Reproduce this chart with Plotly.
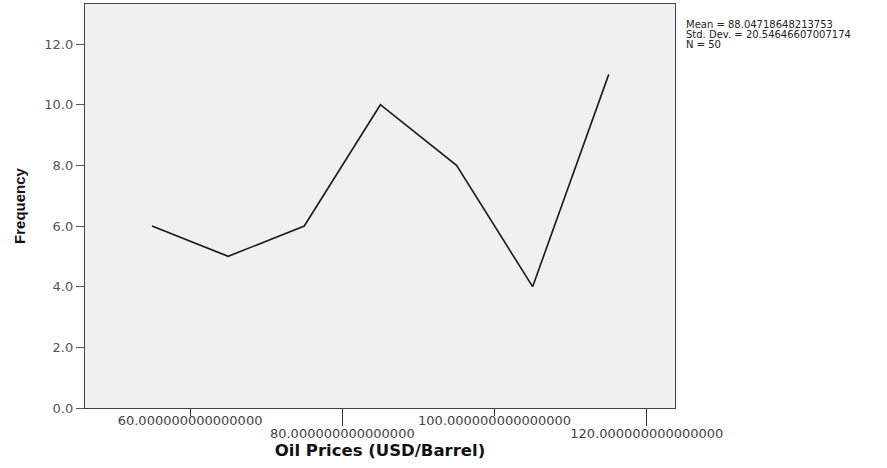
import plotly.graph_objects as go

# Data (bin midpoints and frequencies)
price_mid = [55, 65, 75, 85, 95, 105, 115]
frequency = [6, 5, 6, 10, 8, 4, 11]

upper_ticks = [60, 100]
lower_ticks = [80, 120]
upper_labels = ["60.000000000000000", "100.000000000000000"]
lower_labels = ["80.000000000000000", "120.000000000000000"]
y_ticks = [0, 2, 4, 6, 8, 10, 12]
y_labels = ["0.0", "2.0", "4.0", "6.0", "8.0", "10.0", "12.0"]

stats_lines = ["Mean = 88.04718648213753", "Std. Dev. = 20.54646607007174", "N = 50"]

x_range = [46.2, 123.7]
y_range = [0, 13.32]

fig = go.Figure()
fig.add_trace(go.Scatter(x=price_mid, y=frequency, mode="lines",
                         line=dict(color="#1a1a1a", width=1.6),
                         showlegend=False, hoverinfo="x+y"))
fig.add_trace(go.Scatter(x=[], y=[], xaxis="x2", yaxis="y", showlegend=False))

tick_font = dict(family="DejaVu Sans", size=13, color="#444444")

fig.update_layout(
    width=887, height=468,
    margin=dict(l=85, r=212, t=4, b=60, autoexpand=False),
    paper_bgcolor="white",
    plot_bgcolor="#f0f0f0",
    xaxis=dict(range=x_range, tickvals=upper_ticks, ticktext=upper_labels,
               ticks="outside", ticklen=7, tickwidth=1.3, tickcolor="#333333",
               ticklabelstandoff=-7,
               tickfont=tick_font, showgrid=False, zeroline=False, automargin=False,
               showline=True, linecolor="#444444", linewidth=1.3, mirror=True,
               title=dict(text="<b>Oil Prices (USD/Barrel)</b>",
                          font=dict(family="DejaVu Sans", size=16.5, color="#111111"),
                          standoff=17)),
    xaxis2=dict(range=x_range, overlaying="x", anchor="y", side="bottom",
                tickvals=lower_ticks, ticktext=lower_labels,
                ticks="outside", ticklen=17, tickwidth=1.3, tickcolor="#333333",
                ticklabelstandoff=-4, automargin=False,
                tickfont=tick_font, showgrid=False, zeroline=False, showline=False),
    yaxis=dict(range=y_range, tickvals=y_ticks, ticktext=y_labels,
               ticks="outside", ticklen=8, tickwidth=1.3, tickcolor="#555555",
               tickfont=dict(family="DejaVu Sans", size=13, color="#555555"),
               showgrid=False, zeroline=False, automargin=False,
               showline=True, linecolor="#444444", linewidth=1.3, mirror=True,
               title=dict(text="<b>Frequency</b>",
                          font=dict(family="Liberation Sans Narrow, Liberation Sans", size=15, color="#111111"),
                          standoff=15)),
)

for i, line in enumerate(stats_lines):
    fig.add_annotation(text=line, xref="paper", yref="paper",
                       x=1.0, xshift=9, y=1.0, yshift=-(20 + 10 * i),
                       xanchor="left", yanchor="middle", showarrow=False,
                       font=dict(family="DejaVu Sans", size=10, color="#222222"))

fig.write_html("out.html", config={"displayModeBar": False},
               post_script="document.body.style.margin='0';document.body.style.padding='0';")
